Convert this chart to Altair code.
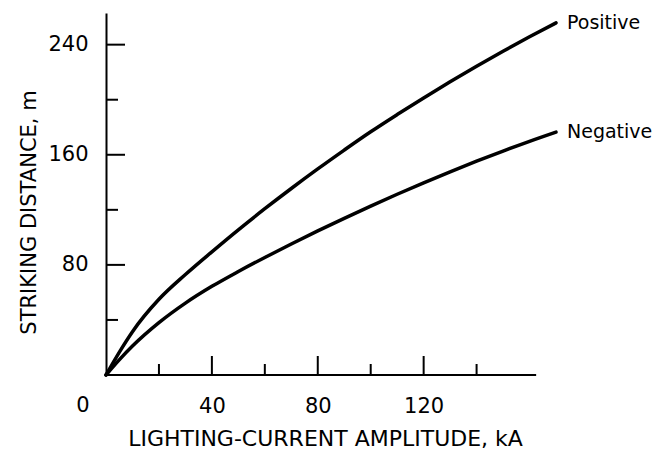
import altair as alt
import pandas as pd

# ---- data ----
current_ka = [0, 5, 10, 20, 30, 40, 50, 60, 70, 80, 90, 100, 110, 120, 130, 140, 150, 160, 170]
positive_m = [0, 16.5, 31.5, 55, 73, 89.5, 105.5, 120.8, 135.5, 149.7, 163.4, 176.7, 189.2,
              201.3, 213, 224.3, 235.2, 245.7, 255.8]
negative_m = [0, 11, 21, 38, 52.2, 64.4, 75.2, 85.4, 95.2, 104.7, 113.8, 122.7, 131.3,
              139.6, 147.6, 155.3, 162.7, 169.8, 176.5]
series_names = ["Positive", "Negative"]

x_labels = [40, 80, 120]
x_major_ticks = [40, 80, 120]
x_minor_ticks = [20, 60, 100, 140]
y_labels = [80, 160, 240]
y_major_ticks = [80, 160, 240]
y_minor_ticks = [40, 120, 200]
x_axis_extent = [0, 162.5]
x_domain = [0, 170]
y_domain = [0, 263]
origin_label = ["0"]

FONT = "DejaVu Sans"

rows = []
for i, c in enumerate(current_ka):
    rows.append({"I": c, "S": positive_m[i], "series": series_names[0]})
    rows.append({"I": c, "S": negative_m[i], "series": series_names[1]})
df = pd.DataFrame(rows)

ends = pd.DataFrame({
    "I": [current_ka[-1], current_ka[-1]],
    "S": [positive_m[-1], negative_m[-1]],
    "series": series_names,
})

xs = alt.Scale(domain=x_domain, nice=False, zero=False)
ys = alt.Scale(domain=y_domain, nice=False, zero=False)

x_axis = alt.Axis(values=x_labels, ticks=False, domain=False, grid=False,
                  labelFontSize=21, labelFont=FONT, labelColor="black",
                  labelPadding=20, title="LIGHTING-CURRENT AMPLITUDE, kA",
                  titleFont=FONT, titleFontSize=22, titleFontWeight="normal",
                  titleColor="black", titleX=219, titleY=70, titleAlign="center",
                  titleBaseline="alphabetic", titleAnchor="middle")
y_axis = alt.Axis(values=y_labels, ticks=False, domain=True, domainColor="black",
                  domainWidth=2, grid=False, labelFontSize=21, labelFont=FONT,
                  labelColor="black", labelPadding=18, title="STRIKING DISTANCE, m",
                  titleFont=FONT, titleFontSize=21, titleFontWeight="normal",
                  titleColor="black", titleX=-71, titleY=199, titleAlign="center",
                  titleBaseline="alphabetic", titleAngle=-90, titleAnchor="middle")

lines = alt.Chart(df).mark_line(color="black", strokeWidth=3.5, strokeCap="round",
                                interpolate="monotone").encode(
    x=alt.X("I:Q", scale=xs, axis=x_axis),
    y=alt.Y("S:Q", scale=ys, axis=y_axis),
    detail="series:N",
)

labels = alt.Chart(ends).mark_text(align="left", baseline="middle", dx=11, font=FONT,
                                   fontSize=19, fontWeight=500, color="black").encode(
    x=alt.X("I:Q", scale=xs), y=alt.Y("S:Q", scale=ys), text="series:N")

x_line = alt.Chart(pd.DataFrame({"a": [x_axis_extent[0]], "b": [x_axis_extent[1]]})).mark_rule(
    color="black", strokeWidth=2).encode(
    x=alt.X("a:Q", scale=xs), x2="b:Q", y=alt.datum(0))

xmaj = alt.Chart(pd.DataFrame({"v": x_major_ticks})).mark_tick(
    orient="vertical", size=19, thickness=2, yOffset=-9.5, color="black", opacity=1).encode(
    x=alt.X("v:Q", scale=xs), y=alt.datum(0))
xmin = alt.Chart(pd.DataFrame({"v": x_minor_ticks})).mark_tick(
    orient="vertical", size=11, thickness=2, yOffset=-5.5, color="black", opacity=1).encode(
    x=alt.X("v:Q", scale=xs), y=alt.datum(0))
ymaj = alt.Chart(pd.DataFrame({"v": y_major_ticks})).mark_tick(
    orient="horizontal", size=19, thickness=2, xOffset=9.5, color="black", opacity=1).encode(
    y=alt.Y("v:Q", scale=ys), x=alt.datum(0))
ymin = alt.Chart(pd.DataFrame({"v": y_minor_ticks})).mark_tick(
    orient="horizontal", size=12, thickness=2, xOffset=6, color="black", opacity=1).encode(
    y=alt.Y("v:Q", scale=ys), x=alt.datum(0))

zero = alt.Chart(pd.DataFrame({"t": origin_label})).mark_text(
    font=FONT, fontSize=21, color="black", align="center", baseline="middle",
    dx=-23, dy=31).encode(x=alt.datum(0), y=alt.datum(0), text="t:N")

chart = alt.layer(lines, labels, x_line, xmaj, xmin, ymaj, ymin, zero).properties(
    width=450, height=362,
    autosize=alt.AutoSizeParams(type="none"),
    padding={"left": 98, "top": 5, "right": 104, "bottom": 76},
    background="white",
).configure_view(stroke=None)

chart.save("out.html", embed_options={"renderer": "svg", "actions": False})
